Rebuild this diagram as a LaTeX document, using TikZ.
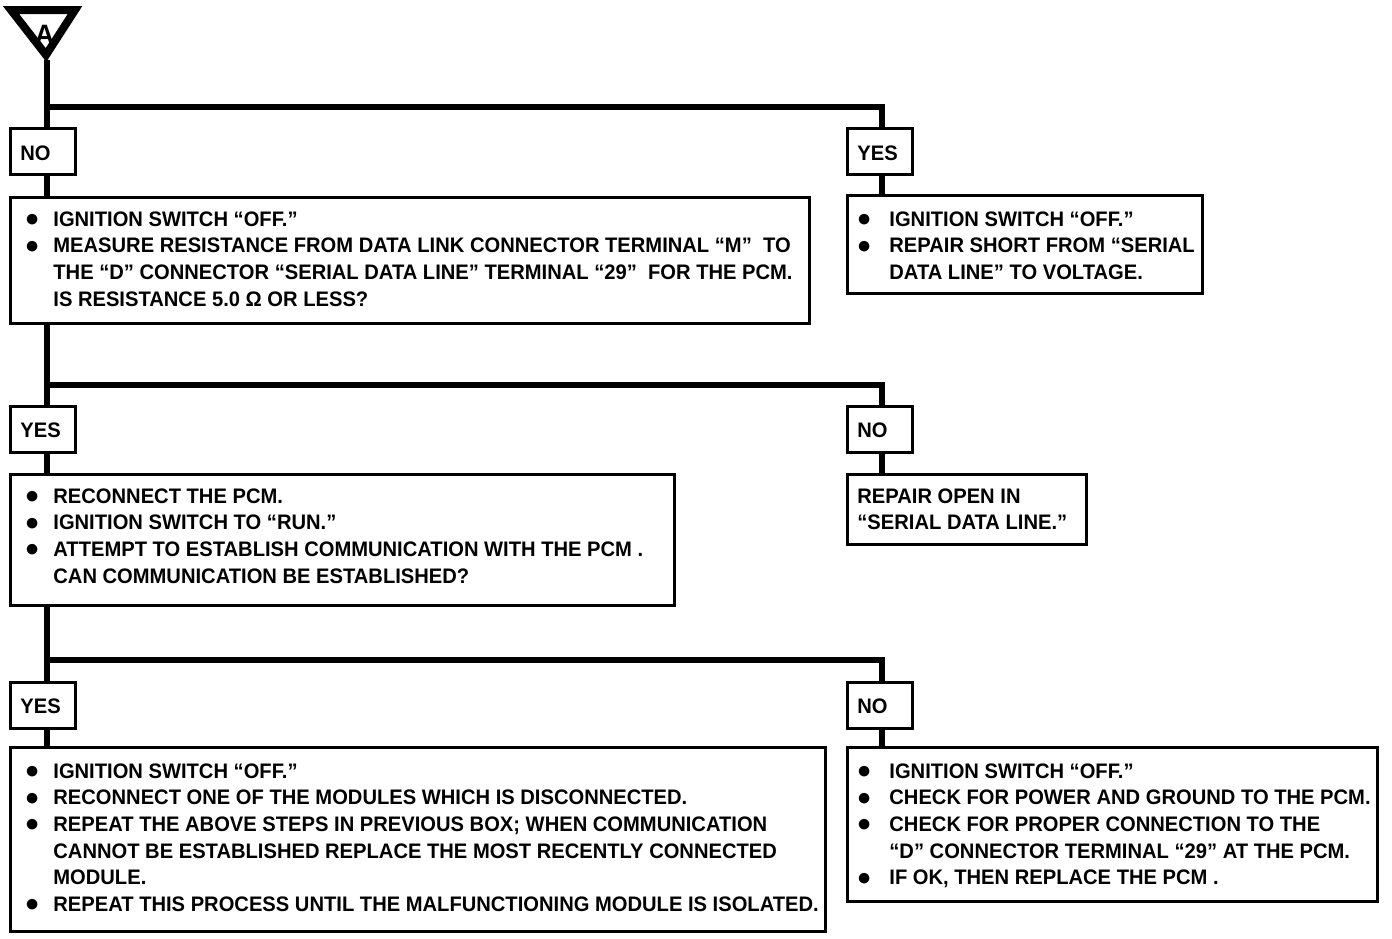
\documentclass[tikz,border=0pt]{standalone}
\usepackage{fontspec}
\setmainfont{Liberation Sans}[FakeStretch=0.96]
\usepackage{array}
\usepackage{graphicx}
\begin{document}
\begin{tikzpicture}[x=0.5pt,y=-0.5pt,
  box/.style={draw, line width=1.3pt, inner sep=0pt, anchor=north west, fill=white},
  lbl/.style={box, minimum width=32.5pt, minimum height=23pt},
  lbltxt/.style={inner sep=0pt, anchor=base west, font=\fontsize{10.5}{13.35}\selectfont\bfseries},
  wire/.style={line width=3.3pt},
  txt/.style={inner sep=0pt, anchor=base west, font=\fontsize{10.5}{13.35}\selectfont\bfseries},
]
\useasboundingbox (0,0) rectangle (1392,938);
\newcommand{\bl}{\raisebox{-0.2pt}{\scalebox{1.25}{$\bullet$}}}
% triangle
\draw[line width=4pt, line join=miter] (11,10) -- (75,10) -- (46,55) -- cycle;
\node[inner sep=0pt, anchor=base, font=\fontsize{14}{14}\selectfont\bfseries] (tA) at (44.5,44) {A};
\coordinate (apex) at (47,60);
% left x and right x
\coordinate (L) at (47,0);
\coordinate (R) at (882,0);
% ---------- level 1
\node[lbl] (no1) at (9,127) {};
\node[lbltxt] (no1t) at (20,160) {NO};
\node[lbl] (yes1) at (846,127) {};
\node[lbltxt] (yes1t) at (857,160) {YES};
\coordinate (j1) at (47,107);
\draw[wire] (apex) -- (L |- no1.north);
\draw[wire] (j1) -| (R |- yes1.north);

\node[box, minimum width=399.5pt, minimum height=63pt] (b1) at (9,196) {};
\node[box, minimum width=177.5pt, minimum height=49pt] (r1) at (846,194) {};
\draw[wire] (L |- no1.south) -- (L |- b1.north);
\draw[wire] (R |- yes1.south) -- (R |- r1.north);

\node[txt] (b1t) at (25,226) {\begin{tabular}[t]{@{}p{14pt}@{}l@{}}
\bl & IGNITION SWITCH “OFF.”\\
\bl & MEASURE RESISTANCE FROM DATA LINK CONNECTOR TERMINAL “M”\ \ TO\\
 & THE “D” CONNECTOR “SERIAL DATA LINE” TERMINAL “29”\ \ FOR THE PCM.\\
 & IS RESISTANCE 5.0 Ω OR LESS?
\end{tabular}};
\node[txt] (r1t) at (857,226) {\begin{tabular}[t]{@{}p{16pt}@{}l@{}}
\bl & IGNITION SWITCH “OFF.”\\
\bl & REPAIR SHORT FROM “SERIAL\\
 & DATA LINE” TO VOLTAGE.
\end{tabular}};

% ---------- level 2
\node[lbl] (yes2) at (9,405) {};
\node[lbltxt] (yes2t) at (20,437) {YES};
\node[lbl] (no2) at (846,405) {};
\node[lbltxt] (no2t) at (857,437) {NO};
\coordinate (j2) at (47,385);
\draw[wire] (L |- b1.south) -- (L |- yes2.north);
\draw[wire] (j2) -| (R |- no2.north);

\node[box, minimum width=332pt, minimum height=65.5pt] (b2) at (9,473) {};
\node[box, minimum width=119.5pt, minimum height=35pt] (r2) at (846,473) {};
\draw[wire] (L |- yes2.south) -- (L |- b2.north);
\draw[wire] (R |- no2.south) -- (R |- r2.north);

\node[txt] (b2t) at (25,503) {\begin{tabular}[t]{@{}p{14pt}@{}l@{}}
\bl & RECONNECT THE PCM.\\
\bl & IGNITION SWITCH TO “RUN.”\\
\bl & ATTEMPT TO ESTABLISH COMMUNICATION WITH THE PCM .\\
 & CAN COMMUNICATION BE ESTABLISHED?
\end{tabular}};
\node[txt] (r2t) at (857,503) {\begin{tabular}[t]{@{}l@{}}
REPAIR OPEN IN\\
“SERIAL DATA LINE.”
\end{tabular}};

% ---------- level 3
\node[lbl] (yes3) at (9,681) {};
\node[lbltxt] (yes3t) at (20,713) {YES};
\node[lbl] (no3) at (846,681) {};
\node[lbltxt] (no3t) at (857,713) {NO};
\coordinate (j3) at (47,660);
\draw[wire] (L |- b2.south) -- (L |- yes3.north);
\draw[wire] (j3) -| (R |- no3.north);

\node[box, minimum width=407.5pt, minimum height=92pt] (b3) at (9,746) {};
\node[box, minimum width=265pt, minimum height=77pt] (r3) at (846,746) {};
\draw[wire] (L |- yes3.south) -- (L |- b3.north);
\draw[wire] (R |- no3.south) -- (R |- r3.north);

\node[txt] (b3t) at (25,778) {\begin{tabular}[t]{@{}p{14pt}@{}l@{}}
\bl & IGNITION SWITCH “OFF.”\\
\bl & RECONNECT ONE OF THE MODULES WHICH IS DISCONNECTED.\\
\bl & REPEAT THE ABOVE STEPS IN PREVIOUS BOX; WHEN COMMUNICATION\\
 & CANNOT BE ESTABLISHED REPLACE THE MOST RECENTLY CONNECTED\\
 & MODULE.\\
\bl & REPEAT THIS PROCESS UNTIL THE MALFUNCTIONING MODULE IS ISOLATED.
\end{tabular}};
\node[txt] (r3t) at (857,778) {\begin{tabular}[t]{@{}p{16pt}@{}l@{}}
\bl & IGNITION SWITCH “OFF.”\\
\bl & CHECK FOR POWER AND GROUND TO THE PCM.\\
\bl & CHECK FOR PROPER CONNECTION TO THE\\
 & “D” CONNECTOR TERMINAL “29” AT THE PCM.\\
\bl & IF OK, THEN REPLACE THE PCM .
\end{tabular}};
\end{tikzpicture}
\end{document}
